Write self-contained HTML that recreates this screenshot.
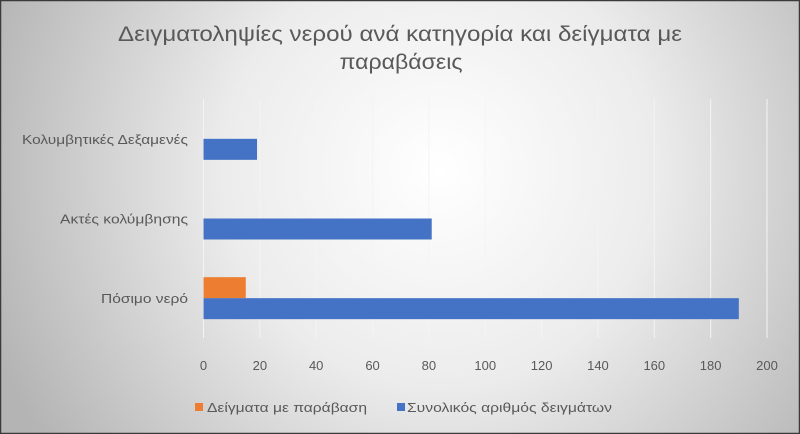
<!DOCTYPE html>
<html><head><meta charset="utf-8">
<style>
html,body{margin:0;padding:0;width:800px;height:434px;overflow:hidden}
svg{display:block;font-family:"Liberation Sans",sans-serif}
</style></head>
<body>
<svg id="chart" width="800" height="434" viewBox="0 0 800 434">
<defs>
<radialGradient id="bg" cx="440" cy="170" r="480" gradientUnits="userSpaceOnUse">
<stop offset="0" stop-color="#ffffff"/>
<stop offset="0.45" stop-color="#ececec"/>
<stop offset="1" stop-color="#b4b4b4"/>
</radialGradient>
</defs>
<rect x="0" y="0" width="800" height="434" fill="url(#bg)"/>
<rect x="0.5" y="0.5" width="799" height="433" fill="none" stroke="#3a3a3a" stroke-width="1.5"/>
<text x="400" y="41" text-anchor="middle" font-size="21" fill="#595959" textLength="564" lengthAdjust="spacingAndGlyphs">Δειγματοληψίες νερού ανά κατηγορία και δείγματα με</text>
<text x="401" y="69" text-anchor="middle" font-size="21" fill="#595959" textLength="123" lengthAdjust="spacingAndGlyphs">παραβάσεις</text>
<g id="grid"></g>
<g id="bars"></g>
<g id="xticks"></g>
<g id="ylabels"></g>
<g>
<rect x="195" y="403" width="8" height="8" fill="#ed7d31"/>
<text x="207" y="412" font-size="13" fill="#595959" textLength="160" lengthAdjust="spacingAndGlyphs">Δείγματα με παράβαση</text>
<rect x="397" y="403" width="8" height="8" fill="#4472c4"/>
<text x="407" y="412" font-size="13" fill="#595959" textLength="205" lengthAdjust="spacingAndGlyphs">Συνολικός αριθμός δειγμάτων</text>
</g>
</svg>
<script>
const categories = ["Πόσιμο νερό", "Ακτές κολύμβησης", "Κολυμβητικές Δεξαμενές"];
const violations = [15, 0, 0];
const totals = [190, 81, 19];
const ticks = [0, 20, 40, 60, 80, 100, 120, 140, 160, 180, 200];
const labelWidths = [87, 128, 166];

const NS = "http://www.w3.org/2000/svg";
const x0 = 203.5, x1 = 767, xMax = 200;
const plotTop = 99, plotBottom = 338;
const band = (plotBottom - plotTop) / categories.length;
const barH = 21;
function xs(v){ return x0 + (x1 - x0) * v / xMax; }
function bandCenter(i){ return plotBottom - band * (i + 0.5); }
function mk(tag, attrs, parent){ const e = document.createElementNS(NS, tag); for (const k in attrs) e.setAttribute(k, attrs[k]); parent.appendChild(e); return e; }

const grid = document.getElementById("grid");
const xt = document.getElementById("xticks");
ticks.forEach(t => {
  const l = mk("line", {x1: xs(t), x2: xs(t), y1: plotTop, y2: plotBottom, stroke: "#f4f4f4", "stroke-width": 1}, grid);
  
  
  const tx = mk("text", {x: xs(t), y: 370, "text-anchor": "middle", "font-size": 13, fill: "#595959"}, xt);
  tx.textContent = t;
  
  
});

const bars = document.getElementById("bars");
const yl = document.getElementById("ylabels");
categories.forEach((c, i) => {
  const cy = bandCenter(i);
  if (violations[i] > 0) {
    const r = mk("rect", {x: x0, y: cy - barH, width: xs(violations[i]) - x0, height: barH, fill: "#ed7d31"}, bars);
    
    
  }
  const b = mk("rect", {x: x0, y: cy, width: xs(totals[i]) - x0, height: barH, fill: "#4472c4"}, bars);
  
  
  const lab = mk("text", {x: 188, y: cy + 5, "text-anchor": "end", "font-size": 13, fill: "#595959", textLength: labelWidths[i], lengthAdjust: "spacingAndGlyphs"}, yl);
  lab.textContent = c;
  
  
});
</script>
</body></html>
